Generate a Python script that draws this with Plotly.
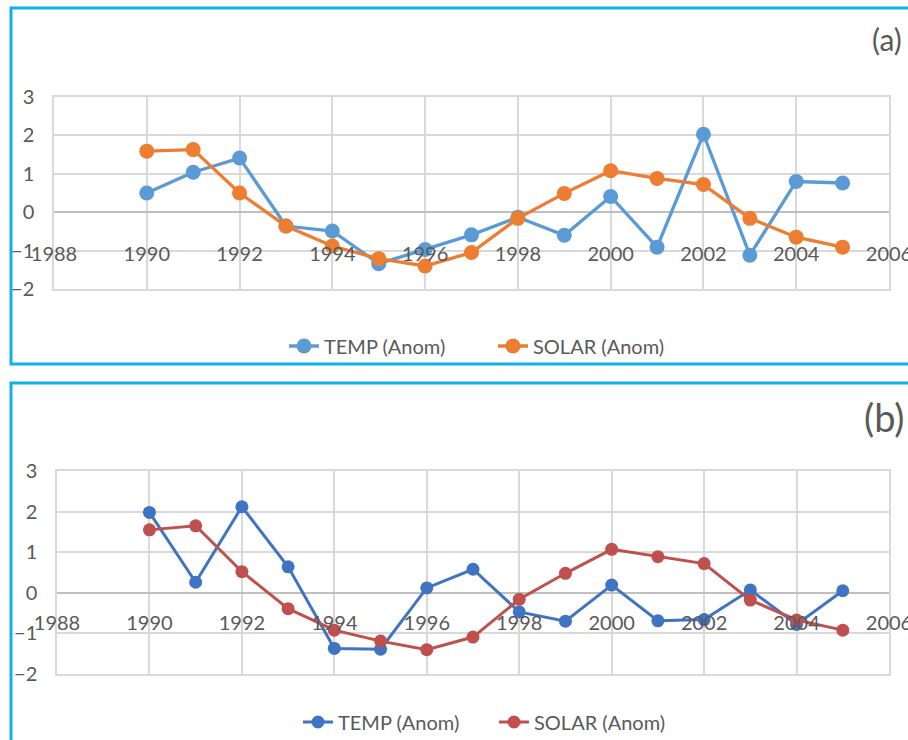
import plotly.graph_objects as go

# Yearly anomalies, 1990-2005
years = list(range(1990, 2006))

temp_a = [0.50, 1.04, 1.41, -0.36, -0.49, -1.34, -0.97, -0.59,
          -0.13, -0.60, 0.41, -0.91, 2.03, -1.12, 0.80, 0.76]
solar_a = [1.59, 1.63, 0.50, -0.36, -0.88, -1.21, -1.40, -1.05,
           -0.16, 0.49, 1.08, 0.88, 0.72, -0.16, -0.65, -0.91]

temp_b = [1.98, 0.26, 2.12, 0.64, -1.37, -1.39, 0.12, 0.58,
          -0.47, -0.70, 0.19, -0.69, -0.66, 0.07, -0.78, 0.05]
solar_b = [1.55, 1.65, 0.52, -0.39, -0.92, -1.19, -1.40, -1.09,
           -0.16, 0.48, 1.07, 0.89, 0.72, -0.18, -0.67, -0.92]

x_ticks = [1988, 1990, 1992, 1994, 1996, 1998, 2000, 2002, 2004, 2006]
y_ticks = [-2, -1, 0, 1, 2, 3]
panel_labels = ["(a)", "(b)"]
series_names = ["TEMP (Anom)", "SOLAR (Anom)"]

W, H = 908, 740
FONT = "Lato, Carlito, 'Open Sans', sans-serif"
TXT = "#595959"
GRID = "#d9d9d9"
FRAME = "#10b0ec"
FS = 20


def px_x(p):
    return p / W


def px_y(p):
    return 1 - p / H


fig = go.Figure()

panels = [
    dict(temp=temp_a, solar=solar_a, colors=("#5b9bd5", "#ed7d31"),
         xa="x", ya="y", legend="legend", msize=15, lw=3.3),
    dict(temp=temp_b, solar=solar_b, colors=("#3f74c2", "#c0504d"),
         xa="x2", ya="y2", legend="legend2", msize=13, lw=3),
]

for p in panels:
    for name, vals, col in zip(series_names, (p["temp"], p["solar"]), p["colors"]):
        fig.add_trace(go.Scatter(
            x=years, y=vals, name=name, mode="lines+markers",
            line=dict(color=col, width=p["lw"]),
            marker=dict(color=col, size=p["msize"]),
            xaxis=p["xa"], yaxis=p["ya"], legend=p["legend"],
            hoverinfo="x+y",
        ))

# empty traces so the year-label axes get drawn
for xa, ya in (("x3", "y"), ("x4", "y2")):
    fig.add_trace(go.Scatter(x=[None], y=[None], xaxis=xa, yaxis=ya,
                             showlegend=False, hoverinfo="skip"))

# plot-area geometry in pixels: (left, right, top, bottom, year-label line)
geom = [(54, 889, 97, 289, 240), (57, 889, 471, 674, 609)]

axis_common = dict(showgrid=True, gridcolor=GRID, gridwidth=1.5,
                   showline=True, mirror=True, linecolor=GRID, linewidth=1.5)

layout = dict(
    width=W, height=H,
    margin=dict(l=0, r=0, t=0, b=0, pad=0, autoexpand=False),
    paper_bgcolor="white", plot_bgcolor="white",
    font=dict(family=FONT, color=TXT, size=FS),
    showlegend=True,
)

for i, (l, r, t, b, lab) in enumerate(geom):
    sx = "" if i == 0 else "2"
    layout["xaxis" + sx] = dict(
        domain=[px_x(l), px_x(r)], range=[1988, 2006],
        tickvals=x_ticks, showticklabels=False, zeroline=False,
        anchor="y" + sx, **axis_common)
    layout["yaxis" + sx] = dict(
        domain=[px_y(b), px_y(t)], range=[-2, 3], tickvals=y_ticks,
        zeroline=True, zerolinecolor="#bfbfbf", zerolinewidth=2,
        ticklabelstandoff=14, tickfont=dict(size=FS, color=TXT),
        anchor="x" + sx, **axis_common)
    # year labels sit on their own free axis inside the plot area
    layout["xaxis" + str(i + 3)] = dict(
        overlaying="x" + sx, anchor="free", position=px_y(lab),
        range=[1988, 2006], tickvals=x_ticks,
        ticktext=[str(v) for v in x_ticks], ticklabeloverflow="allow",
        showgrid=False, zeroline=False, showline=False, ticks="",
        tickfont=dict(size=FS, color=TXT))

legend_common = dict(orientation="h", xanchor="left", yanchor="middle",
                     xref="container", yref="container",
                     entrywidthmode="pixels",
                     font=dict(size=FS, color=TXT), bgcolor="rgba(0,0,0,0)")
layout["legend"] = dict(x=px_x(284), y=px_y(346), entrywidth=164, **legend_common)
layout["legend2"] = dict(x=px_x(298), y=px_y(722), entrywidth=151, **legend_common)

layout["shapes"] = [
    dict(type="rect", xref="paper", yref="paper",
         x0=px_x(11), x1=1.02, y0=px_y(364), y1=px_y(8),
         line=dict(color=FRAME, width=3), fillcolor="rgba(0,0,0,0)", layer="below"),
    dict(type="rect", xref="paper", yref="paper",
         x0=px_x(11), x1=1.02, y0=-0.02, y1=px_y(383),
         line=dict(color=FRAME, width=3), fillcolor="rgba(0,0,0,0)", layer="below"),
]

layout["annotations"] = [
    dict(text=panel_labels[0], xref="paper", yref="paper", x=px_x(904), y=px_y(39),
         xanchor="right", yanchor="middle", showarrow=False,
         font=dict(size=30, color=TXT, family=FONT)),
    dict(text=panel_labels[1], xref="paper", yref="paper", x=px_x(906), y=px_y(417),
         xanchor="right", yanchor="middle", showarrow=False,
         font=dict(size=38, color=TXT, family=FONT)),
]

fig.update_layout(**layout)
fig.write_html("out.html")
